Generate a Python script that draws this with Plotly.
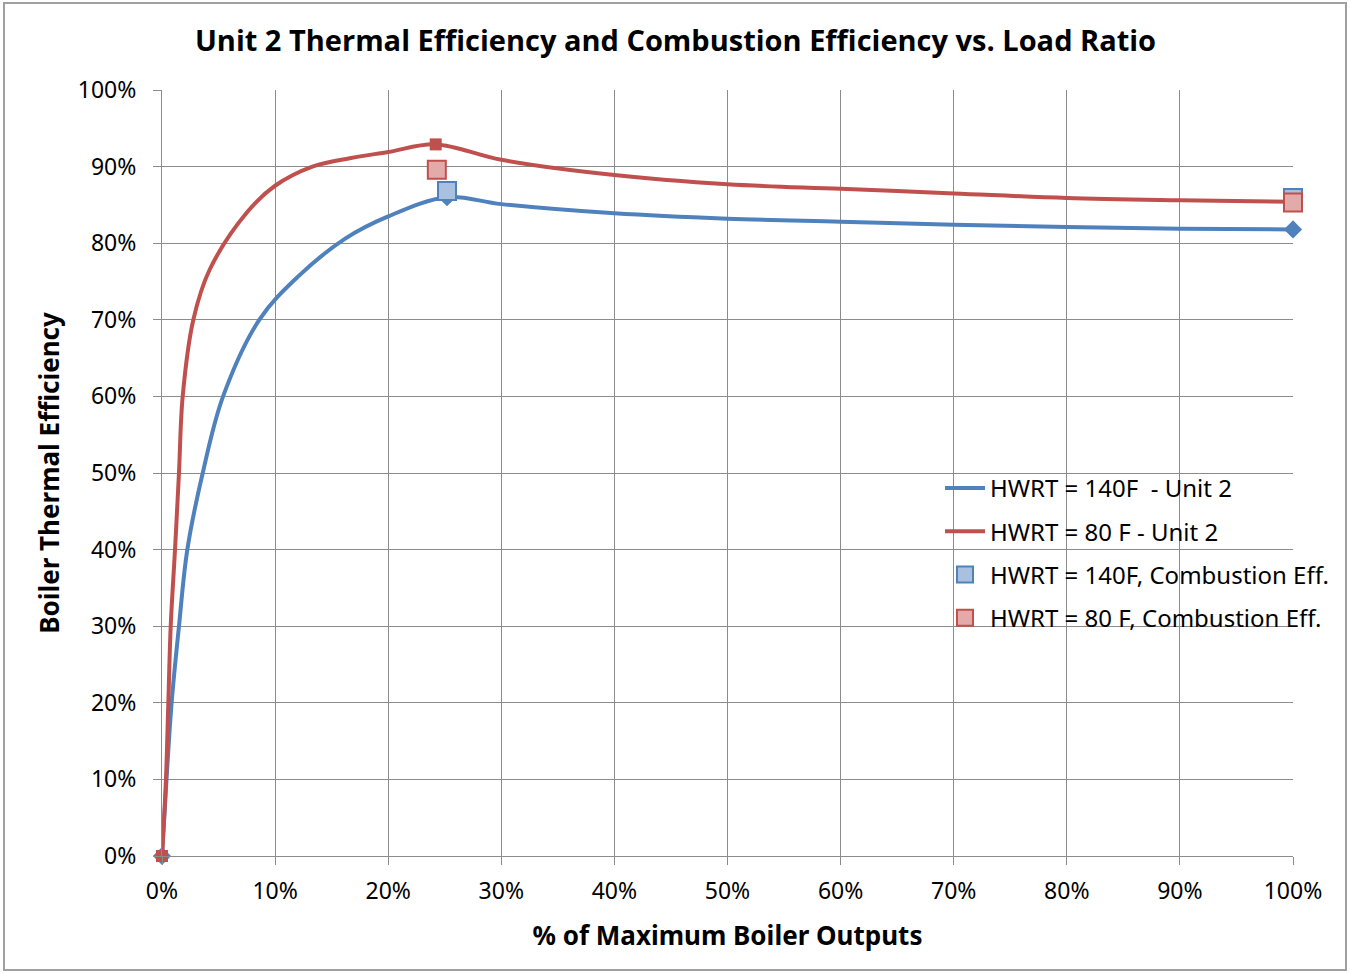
import plotly.graph_objects as go

# Thermal efficiency curves (x: % of max boiler output, y: efficiency %)
blue_x = [0, 0.4, 0.85, 1.5, 2.24, 3.6, 5.4, 8.6, 12, 16.2, 20, 25.2, 30, 40, 50, 60, 70, 80, 90, 100]
blue_y = [0, 10, 20, 30, 40, 50, 60, 70, 75.6, 80.6, 83.5, 86.0, 85.1, 83.9, 83.2, 82.8, 82.4, 82.1, 81.9, 81.8]
red_x = [0, 0.35, 0.56, 0.77, 1.15, 1.5, 1.83, 2.77, 4.2, 7.5, 10, 13.3, 16.6, 20, 24.2, 30, 40, 50, 60, 70, 80, 90, 100]
red_y = [0, 10, 20, 30, 40, 50, 60, 70, 76.5, 84, 87.5, 90, 91.1, 91.9, 92.9, 90.9, 88.9, 87.7, 87.1, 86.5, 85.9, 85.6, 85.4]

# Measured data points (markers on the curves)
blue_pts_x = [0, 25.2, 100]
blue_pts_y = [0, 86.0, 81.8]
red_pts_x = [0, 24.2, 100]
red_pts_y = [0, 92.9, 85.4]

# Combustion efficiency points
comb_blue_x = [25.2, 100]
comb_blue_y = [86.8, 85.9]
comb_red_x = [24.3, 100]
comb_red_y = [89.6, 85.3]

names = ["HWRT = 140F  - Unit 2", "HWRT = 80 F - Unit 2",
         "HWRT = 140F, Combustion Eff.", "HWRT = 80 F, Combustion Eff."]
title = "Unit 2 Thermal Efficiency and Combustion Efficiency vs. Load Ratio"
x_title = "% of Maximum Boiler Outputs"
y_title = "Boiler Thermal Efficiency"
ticks = list(range(0, 101, 10))
tick_text = [f"{t}%" for t in ticks]

BLUE = "#4F81BD"
RED = "#C0504D"
W, H = 1351, 973
L, R, T, B = 162, 58, 90, 117

fig = go.Figure()
fig.add_trace(go.Scatter(x=blue_x, y=blue_y, mode="lines", name=names[0],
                         line=dict(color=BLUE, width=4, shape="spline", smoothing=1),
                         legendgroup="a"))
fig.add_trace(go.Scatter(x=blue_pts_x, y=blue_pts_y, mode="markers", showlegend=False,
                         cliponaxis=False,
                         marker=dict(symbol="diamond", size=14, color=BLUE)))
fig.add_trace(go.Scatter(x=red_x, y=red_y, mode="lines", name=names[1],
                         line=dict(color=RED, width=4, shape="spline", smoothing=1),
                         legendgroup="b"))
fig.add_trace(go.Scatter(x=red_pts_x, y=red_pts_y, mode="markers", showlegend=False,
                         cliponaxis=False,
                         marker=dict(symbol="square", size=12, color=RED)))
fig.add_trace(go.Scatter(x=comb_blue_x, y=comb_blue_y, mode="markers", name=names[2],
                         cliponaxis=False,
                         marker=dict(symbol="square", size=18, color="#A9C1DF",
                                     line=dict(color=BLUE, width=2)),
                         legendgroup="c"))
fig.add_trace(go.Scatter(x=comb_red_x, y=comb_red_y, mode="markers", name=names[3],
                         cliponaxis=False,
                         marker=dict(symbol="square", size=18, color="#E2AAA8",
                                     line=dict(color=RED, width=2)),
                         legendgroup="d"))

pw = W - L - R
ph = H - T - B
fig.add_shape(type="rect", xref="paper", yref="paper",
              x0=(4 - L) / pw, x1=(W - 5 - L) / pw,
              y0=-(H - 3 - T - ph) / ph, y1=1 + (T - 3) / ph,
              line=dict(color="#A0A0A0", width=2), layer="below")

grid = "#8C8C8C"
fig.update_layout(
    width=W, height=H, autosize=False,
    margin=dict(l=L, r=R, t=T, b=B),
    paper_bgcolor="white", plot_bgcolor="white",
    font=dict(family="Noto Sans", color="black", size=22),
    title=dict(text=f"<b>{title}</b>", x=0.5, xanchor="center", y=1 - 41 / H, yanchor="middle",
               xref="container", font=dict(family="Open Sans", size=29, color="black")),
    xaxis=dict(range=[0, 100], tickvals=ticks, ticktext=tick_text,
               showgrid=True, gridcolor=grid, gridwidth=1,
               showline=True, linecolor=grid, linewidth=1,
               ticks="outside", ticklen=8, tickcolor=grid,
               zeroline=False, tickfont=dict(size=23), ticklabelstandoff=6,
               title=dict(text=f"<b>{x_title}</b>", font=dict(size=26), standoff=22)),
    yaxis=dict(range=[0, 100], tickvals=ticks, ticktext=tick_text,
               showgrid=True, gridcolor=grid, gridwidth=1,
               showline=True, linecolor=grid, linewidth=1,
               ticks="outside", ticklen=8, tickcolor=grid,
               zeroline=False, tickfont=dict(size=23), ticklabelstandoff=12,
               title=dict(text=f"<b>{y_title}</b>", font=dict(size=26), standoff=10)),
    legend=dict(x=(940 - L) / pw, y=(H - B - 466) / ph, xanchor="left", yanchor="top",
                bgcolor="rgba(0,0,0,0)", font=dict(size=24),
                traceorder="grouped", tracegroupgap=9, itemwidth=40),
)

fig.write_html("out.html")
